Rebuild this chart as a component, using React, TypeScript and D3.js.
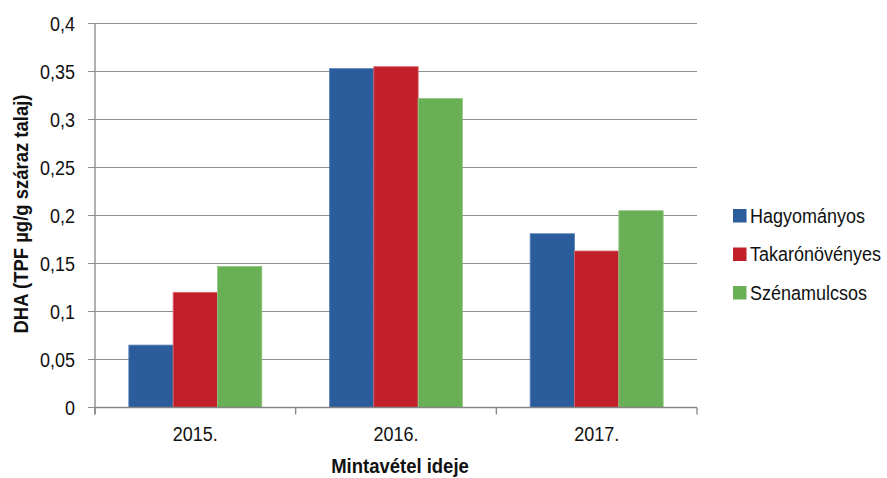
import React from "react";
import * as d3 from "d3";

const categories = ["2015.", "2016.", "2017."];
const seriesNames = ["Hagyományos", "Takarónövényes", "Szénamulcsos"];
const hagyomanyos = [0.065, 0.353, 0.181];
const takaronovenyes = [0.12, 0.355, 0.163];
const szenamulcsos = [0.147, 0.322, 0.205];
const yTicks = [0, 0.05, 0.1, 0.15, 0.2, 0.25, 0.3, 0.35, 0.4];
const colors = ["#2B5C9C", "#C1202A", "#69AF55"];
const strokes = ["#5A82B8", "#D9656B", "#93C883"];

const W = 887;
const H = 478;
const left = 95;
const right = 697;
const top = 23.5;
const bottom = 407.5;
const FONT = "'Liberation Sans', Arial, sans-serif";
const SY = 1.12;

function T(props: {
  x: number;
  y: number;
  anchor?: string;
  size?: number;
  bold?: boolean;
  rotate?: boolean;
  mid?: boolean;
  children: React.ReactNode;
}) {
  const { x, y, anchor = "start", size = 18, bold = false, rotate = false, mid = false, children } = props;
  const tr = rotate
    ? `translate(${x},${y}) rotate(-90) scale(1,${SY})`
    : `translate(${x},${y}) scale(1,${SY})`;
  return (
    <text
      transform={tr}
      textAnchor={anchor}
      dy={mid ? "0.36em" : undefined}
      fontSize={size}
      fontWeight={bold ? "bold" : "normal"}
      fill="#111"
    >
      {children}
    </text>
  );
}

export default function App() {
  const values = [hagyomanyos, takaronovenyes, szenamulcsos];
  const x = d3.scaleBand<string>().domain(categories).range([left, right]).padding(0);
  const xs = d3
    .scaleBand<string>()
    .domain(seriesNames)
    .range([0, x.bandwidth()])
    .paddingInner(0)
    .paddingOuter(0.763);
  const y = d3.scaleLinear().domain([0, 0.4]).range([bottom, top]);
  const fmt = (v: number) => String(+v.toFixed(2)).replace(".", ",");
  const boundaries = [...categories.map((c) => x(c) as number), right];

  return (
    <svg
      width={W}
      height={H}
      style={{ position: "absolute", left: 0, top: 0, background: "#fff" }}
      fontFamily={FONT}
    >
      <rect x={0} y={0} width={W} height={H} fill="#fff" />
      {yTicks.map((t) => (
        <g key={t}>
          <line x1={left - 7} x2={right} y1={y(t)} y2={y(t)} stroke="#8E8E8E" strokeWidth={1.2} />
          <T x={75} y={y(t)} anchor="end" mid>
            {fmt(t)}
          </T>
        </g>
      ))}
      {categories.map((c, ci) => (
        <g key={c} transform={`translate(${x(c)},0)`}>
          {seriesNames.map((s, si) => {
            const v = values[si][ci];
            return (
              <rect
                key={s}
                x={xs(s)}
                y={y(v)}
                width={xs.bandwidth()}
                height={y(0) - y(v)}
                fill={colors[si]}
                stroke={strokes[si]}
                strokeWidth={0.8}
              />
            );
          })}
        </g>
      ))}
      <line x1={left} x2={left} y1={top} y2={bottom + 7} stroke="#868686" strokeWidth={1.3} />
      <line x1={left} x2={right} y1={bottom} y2={bottom} stroke="#868686" strokeWidth={1.3} />
      {boundaries.map((b, i) => (
        <line key={i} x1={b} x2={b} y1={bottom} y2={bottom + 7} stroke="#868686" strokeWidth={1.3} />
      ))}
      {categories.map((c) => (
        <T key={c} x={(x(c) as number) + x.bandwidth() / 2} y={441} anchor="middle">
          {c}
        </T>
      ))}
      <T x={400} y={473} anchor="middle" size={18.5} bold>
        Mintavétel ideje
      </T>
      <T x={28} y={214} anchor="middle" size={18.5} bold rotate>
        DHA (TPF µg/g száraz talaj)
      </T>
      {seriesNames.map((s, i) => (
        <g key={s}>
          <rect x={733} y={209 + i * 38.5} width={13.5} height={13.5} fill={colors[i]} />
          <T x={750} y={222.5 + i * 38.5}>
            {s}
          </T>
        </g>
      ))}
    </svg>
  );
}
